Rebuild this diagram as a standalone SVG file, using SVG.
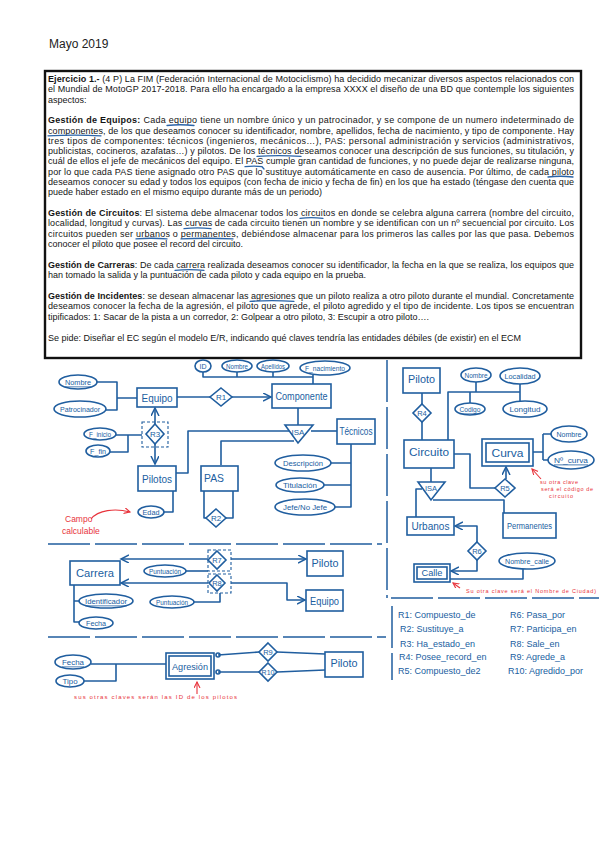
<svg xmlns="http://www.w3.org/2000/svg" width="599" height="848" viewBox="0 0 599 848">
<defs>
<marker id="arr" markerUnits="userSpaceOnUse" markerWidth="10" markerHeight="10" refX="8" refY="4" orient="auto">
<path d="M0,0 L8,4 L0,8" fill="none" stroke="#205e9f" stroke-width="1.5"/>
</marker>
<marker id="rarr" markerUnits="userSpaceOnUse" markerWidth="8" markerHeight="8" refX="6" refY="3" orient="auto">
<path d="M0,0 L6,3 L0,6" fill="none" stroke="#e8343c" stroke-width="1.1"/>
</marker>
</defs>
<style>
.doc{font-family:"Liberation Sans",Arial,sans-serif;font-size:9px;fill:#151515}
.bd{font-weight:bold}
.hl{fill:none;stroke:#2a64a8;stroke-width:1.3;stroke-linecap:round}
.s{fill:none;stroke:#205e9f;stroke-width:1.6;stroke-linejoin:round}
.box{fill:#fff;stroke:#205e9f;stroke-width:1.6}
.t{font-family:"Liberation Sans Narrow","Liberation Sans",sans-serif;fill:#205e9f;text-anchor:middle;dominant-baseline:central}
.dash{fill:none;stroke:#205e9f;stroke-width:1.1;stroke-dasharray:3 2}
.sep{fill:none;stroke:#205e9f;stroke-width:1.5;stroke-dasharray:42 5}
.red{font-family:"Liberation Sans Narrow","Liberation Sans",sans-serif;fill:#e8343c}
.rs{fill:none;stroke:#e8343c;stroke-width:1.1}
.lg{font-family:"Liberation Sans Narrow","Liberation Sans",sans-serif;fill:#205e9f;font-size:9px}
</style>
<rect width="599" height="848" fill="#fff"/>
<text x="49" y="48" font-family="'Liberation Sans',Arial,sans-serif" font-size="12" fill="#222">Mayo 2019</text>

<g id="enunciado">
<rect x="45" y="71" width="536" height="287" fill="#fff" stroke="#111" stroke-width="2.4"/>
<g class="doc">
<text x="48" y="82" textLength="526" lengthAdjust="spacing"><tspan class="bd">Ejercicio 1.-</tspan> (4 P)  La FIM (Federación Internacional de Motociclismo) ha decidido mecanizar diversos aspectos relacionados con</text>
<text x="48" y="92.3" textLength="526" lengthAdjust="spacing">el Mundial de MotoGP 2017-2018. Para ello ha encargado a la empresa XXXX el diseño de una BD que contemple los siguientes</text>
<text x="48" y="102.6">aspectos:</text>
<text x="48" y="123.2" textLength="526" lengthAdjust="spacing"><tspan class="bd">Gestión de Equipos:</tspan> Cada equipo tiene un nombre único y un patrocinador, y se compone de un numero indeterminado de</text>
<text x="48" y="133.5" textLength="526" lengthAdjust="spacing">componentes, de los que deseamos conocer su identificador, nombre, apellidos, fecha de nacimiento, y tipo de componente. Hay</text>
<text x="48" y="143.8" textLength="526" lengthAdjust="spacing">tres tipos de componentes: técnicos (ingenieros, mecánicos…), PAS: personal administración y servicios (administrativos,</text>
<text x="48" y="154.1" textLength="526" lengthAdjust="spacing">publicistas, cocineros, azafatas…) y pilotos. De los técnicos deseamos conocer una descripción de sus funciones, su titulación, y</text>
<text x="48" y="164.4" textLength="526" lengthAdjust="spacing">cuál de ellos el jefe de mecánicos del equipo. El PAS cumple gran cantidad de funciones, y no puede dejar de realizarse ninguna,</text>
<text x="48" y="174.7" textLength="526" lengthAdjust="spacing">por lo que cada PAS tiene asignado otro PAS que lo sustituye automáticamente en caso de ausencia. Por último, de cada piloto</text>
<text x="48" y="185" textLength="526" lengthAdjust="spacing">deseamos conocer su edad y todos los equipos (con fecha de inicio y fecha de fin) en los que ha estado (téngase den cuenta que</text>
<text x="48" y="195.3" textLength="274" lengthAdjust="spacing">puede haber estado en el mismo equipo durante más de un periodo)</text>
<text x="48" y="216" textLength="526" lengthAdjust="spacing"><tspan class="bd">Gestión de Circuitos</tspan>: El sistema debe almacenar todos los circuitos en donde se celebra alguna carrera (nombre del circuito,</text>
<text x="48" y="226.3" textLength="526" lengthAdjust="spacing">localidad, longitud y curvas). Las curvas de cada circuito tienen un nombre y se identifican con un nº secuencial por circuito. Los</text>
<text x="48" y="236.6" textLength="526" lengthAdjust="spacing">circuitos pueden ser urbanos o permanentes, debiéndose almacenar para los primeros las calles por las que pasa. Debemos</text>
<text x="48" y="246.9" textLength="195" lengthAdjust="spacing">conocer el piloto que posee el record del circuito.</text>
<text x="48" y="268" textLength="526" lengthAdjust="spacing"><tspan class="bd">Gestión de Carreras</tspan>: De cada carrera realizada deseamos conocer su identificador, la fecha en la que se realiza, los equipos que</text>
<text x="48" y="278.3" textLength="318" lengthAdjust="spacing">han tomado la salida y la puntuación de cada piloto y cada equipo en la prueba.</text>
<text x="48" y="299" textLength="526" lengthAdjust="spacing"><tspan class="bd">Gestión de Incidentes</tspan>: se desean almacenar las agresiones que un piloto realiza a otro piloto durante el mundial. Concretamente</text>
<text x="48" y="309.3" textLength="526" lengthAdjust="spacing">deseamos conocer la fecha de la agresión, el piloto que agrede, el piloto agredido y el tipo de incidente. Los tipos se encuentran</text>
<text x="48" y="319.6" textLength="381" lengthAdjust="spacing">tipificados: 1: Sacar de la pista a un corredor, 2: Golpear a otro piloto, 3: Escupir a otro piloto….</text>
<text x="48" y="340.5" textLength="473" lengthAdjust="spacing">Se pide: Diseñar el EC según el modelo E/R, indicando qué claves tendría las entidades débiles (de existir) en el ECM</text>
</g>
<g id="subrayados">
<path class="hl" d="M167 125.5 Q180 124 194 125.5"/>
<path class="hl" d="M48 135.8 Q75 134.5 101 135.8"/>
<path class="hl" d="M257 156.4 Q279 155 301 156.4"/>
<path class="hl" d="M245 166.7 Q254 165.5 262 166.7 L264 169"/>
<path class="hl" d="M548 177 Q560 175.5 573 177"/>
<path class="hl" d="M300 218.3 Q311 217 323 218.3"/>
<path class="hl" d="M184 228.6 Q197 227.3 211 228.6"/>
<path class="hl" d="M136 238.9 Q151 237.6 167 238.9"/>
<path class="hl" d="M181 238.9 Q207 237.6 233 238.9"/>
<path class="hl" d="M175 270.3 Q189 269 204 270.3"/>
<path class="hl" d="M250 301.3 Q272 300 294 301.3"/>
</g>
</g>

<g id="separadores">
<path class="sep" d="M387 360 V598"/>
<path class="sep" d="M392 606 V680"/>
<path class="sep" d="M48 544 H382"/>
<path class="sep" d="M48 637 H386"/>
<path class="sep" d="M391 598 H599"/>
</g>

<g id="connectors">
<path class="s" d="M203 372 V377 H313 M237 372 V377 M273 372 V377 M313 375 V384"/>
<path class="s" d="M97 382 H117 V410 H106 M117 398 H137"/>
<path class="s" d="M177 397 H210"/>
<path class="s" d="M232 397 H271" marker-end="url(#arr)"/>
<path class="s" d="M298 408 V425"/>
<path class="s" d="M311 431 H337"/>
<path class="s" d="M289 431 H188 V473 H175"/>
<path class="s" d="M294 441 H221 V465"/>
<path class="s" d="M204 490 V518 H206 M233 490 V518 H226"/>
<path class="s" d="M155 424 V408" marker-end="url(#arr)"/>
<path class="s" d="M155 444 V464" marker-end="url(#arr)"/>
<path class="s" d="M116 435 H142 M128 435 V452 H110"/>
<path class="s" d="M164 512 H173 V490"/>
<path class="s" d="M351 444 V507 H335 M331 463 H351 M324 485 H351"/>
<path class="s" d="M208 559 H121" marker-end="url(#arr)"/>
<path class="s" d="M231 559 H306" marker-end="url(#arr)"/>
<path class="s" d="M186 571 H208"/>
<path class="s" d="M208 583 H121" marker-end="url(#arr)"/>
<path class="s" d="M231 583 H287 V600 H305" marker-end="url(#arr)"/>
<path class="s" d="M194 602 H220 V593"/>
<path class="s" d="M74 585 V622 H79 M74 601 H79"/>
<path class="s" d="M91 664 H166 M116 664 V681 H84"/>
<path class="s" d="M218 655 L259 652 M277 652 L325 654"/>
<path class="s" d="M218 672 L259 672 M277 672 L325 670"/>
<circle class="s" cx="218" cy="655" r="2"/>
<circle class="s" cx="218" cy="672" r="2"/>
<path class="s" d="M422 393 V404 M422 422 V440"/>
<path class="s" d="M448 440 V392 H520 M476 382 V392 M520 384 V401 M470 392 V403"/>
<path class="s" d="M532 452 H543 M543 434 V460 M543 434 H551 M543 460 H548"/>
<path class="s" d="M454 454 H470 V488 H495"/>
<path class="s" d="M506 479 V467" marker-end="url(#arr)"/>
<path class="s" d="M431 468 V482"/>
<path class="s" d="M422 489 H416 V517"/>
<path class="s" d="M433 500 H504 V513"/>
<path class="s" d="M477 542 V526 H455" marker-end="url(#arr)"/>
<path class="s" d="M477 560 V571 H451" marker-end="url(#arr)"/>
<path class="s" d="M523 569 V579 H450"/>
</g>

<g id="equipo"><rect class="box" x="137" y="388" width="40" height="19"/><text class="t" x="157" y="397.5" font-size="10.5" textLength="31" lengthAdjust="spacingAndGlyphs">Equipo</text></g>
<g id="equipo-nombre"><ellipse class="box" cx="78" cy="382" rx="19" ry="7"/><text class="t" x="78" y="382" font-size="7.5" text-decoration="underline" textLength="26" lengthAdjust="spacingAndGlyphs">Nombre</text></g>
<g id="equipo-patrocinador"><ellipse class="box" cx="80" cy="409" rx="26" ry="8"/><text class="t" x="80" y="409" font-size="7.5" textLength="40" lengthAdjust="spacingAndGlyphs">Patrocinador</text></g>
<g id="r1"><polygon class="box" points="221,388 232,397 221,406 210,397"/><text class="t" x="221" y="397" font-size="8">R1</text></g>
<g id="componente"><rect class="box" x="272" y="384" width="59" height="24"/><text class="t" x="301.5" y="396" font-size="10.5" textLength="52" lengthAdjust="spacingAndGlyphs">Componente</text></g>
<g id="comp-id"><ellipse class="box" cx="203" cy="366" rx="8" ry="6"/><text class="t" x="203" y="366" font-size="7">ID</text></g>
<g id="comp-nombre"><ellipse class="box" cx="237" cy="366" rx="15" ry="6"/><text class="t" x="237" y="366" font-size="6.5" textLength="22" lengthAdjust="spacingAndGlyphs">Nombre</text></g>
<g id="comp-apellidos"><ellipse class="box" cx="273" cy="366" rx="16" ry="6"/><text class="t" x="273" y="366" font-size="6.5" textLength="24" lengthAdjust="spacingAndGlyphs">Apellidos</text></g>
<g id="comp-fnac"><ellipse class="box" cx="325" cy="368" rx="25" ry="7"/><text class="t" x="325" y="368" font-size="7" textLength="40" lengthAdjust="spacingAndGlyphs">F_nacimiento</text></g>
<g id="isa1"><polygon class="box" points="285,425 313,425 298,443"/><text class="t" x="298" y="432" font-size="8">ISA</text></g>
<g id="tecnicos"><rect class="box" x="337" y="419" width="38" height="25"/><text class="t" x="356" y="431.5" font-size="10" textLength="33" lengthAdjust="spacingAndGlyphs">Técnicos</text></g>
<g id="pas"><rect class="box" x="201" y="466" width="37" height="25"/><text class="t" x="214" y="478" font-size="11" textLength="20" lengthAdjust="spacingAndGlyphs">PAS</text></g>
<g id="r2"><polygon class="box" points="216,509 226,518 216,527 206,518"/><text class="t" x="216" y="518" font-size="8">R2</text></g>
<g id="pilotos"><rect class="box" x="138" y="466" width="38" height="25"/><text class="t" x="157" y="478.5" font-size="10.5" textLength="30" lengthAdjust="spacingAndGlyphs">Pilotos</text></g>
<g id="r3"><rect class="dash" x="142" y="422" width="26" height="25"/><polygon class="box" points="155,424 164,434 155,444 146,434"/><text class="t" x="155" y="434" font-size="8">R3</text></g>
<g id="finicio"><ellipse class="box" cx="100" cy="434" rx="16" ry="6"/><text class="t" x="100" y="434" font-size="6.5" textLength="22" lengthAdjust="spacingAndGlyphs">F_inicio</text></g>
<g id="ffin"><ellipse class="box" cx="98" cy="451" rx="12" ry="6"/><text class="t" x="98" y="451" font-size="7" textLength="16" lengthAdjust="spacingAndGlyphs">F_fin</text></g>
<g id="edad"><ellipse class="box" cx="151" cy="512" rx="13" ry="6"/><text class="t" x="151" y="512" font-size="7.5" textLength="17" lengthAdjust="spacingAndGlyphs">Edad</text></g>
<g id="descripcion"><ellipse class="box" cx="303" cy="463" rx="28" ry="8"/><text class="t" x="303" y="463" font-size="7.5" textLength="40" lengthAdjust="spacingAndGlyphs">Descripción</text></g>
<g id="titulacion"><ellipse class="box" cx="300" cy="485" rx="24" ry="7"/><text class="t" x="300" y="485" font-size="7.5" textLength="34" lengthAdjust="spacingAndGlyphs">Titulación</text></g>
<g id="jefe"><ellipse class="box" cx="305" cy="507" rx="30" ry="8"/><text class="t" x="305" y="507" font-size="7.5" textLength="44" lengthAdjust="spacingAndGlyphs">Jefe/No Jefe</text></g>
<g id="nota-calculable">
<text class="red" x="65" y="522" font-size="8.5">Campo</text>
<text class="red" x="62" y="534" font-size="8.5">calculable</text>
<path class="rs" d="M91 519 C98 510 115 508 130 512" marker-end="url(#rarr)"/>
</g>

<g id="carrera"><rect class="box" x="70" y="561" width="50" height="24"/><text class="t" x="95" y="573" font-size="10.5" textLength="38" lengthAdjust="spacingAndGlyphs">Carrera</text></g>
<g id="r7"><rect class="dash" x="208" y="550" width="23" height="21"/><polygon class="box" points="217,551 226,560 217,569 208,560"/><text class="t" x="217" y="560" font-size="7.5">R7</text></g>
<g id="piloto-r7"><rect class="box" x="307" y="551" width="36" height="25"/><text class="t" x="325" y="563" font-size="10.5" textLength="27" lengthAdjust="spacingAndGlyphs">Piloto</text></g>
<g id="puntuacion1"><ellipse class="box" cx="165" cy="571" rx="21" ry="6"/><text class="t" x="165" y="571" font-size="7" textLength="32" lengthAdjust="spacingAndGlyphs">Puntuación</text></g>
<g id="r8"><rect class="dash" x="208" y="574" width="23" height="19"/><polygon class="box" points="217,575 225,583 217,591 209,583"/><text class="t" x="217" y="583" font-size="7.5">R8</text></g>
<g id="equipo-r8"><rect class="box" x="306" y="590" width="37" height="21"/><text class="t" x="324.5" y="600.5" font-size="10.5" textLength="29" lengthAdjust="spacingAndGlyphs">Equipo</text></g>
<g id="puntuacion2"><ellipse class="box" cx="172" cy="602" rx="22" ry="6"/><text class="t" x="172" y="602" font-size="7" textLength="32" lengthAdjust="spacingAndGlyphs">Puntuación</text></g>
<g id="identificador"><ellipse class="box" cx="106" cy="601" rx="27" ry="7"/><text class="t" x="106" y="601" font-size="7.5" textLength="42" lengthAdjust="spacingAndGlyphs" text-decoration="underline">Identificador</text></g>
<g id="carrera-fecha"><ellipse class="box" cx="96" cy="623" rx="17" ry="6"/><text class="t" x="96" y="623" font-size="7.5" textLength="20" lengthAdjust="spacingAndGlyphs">Fecha</text></g>

<g id="agr-fecha"><ellipse class="box" cx="73" cy="662" rx="18" ry="7"/><text class="t" x="73" y="662" font-size="7.5" text-decoration="underline" textLength="22" lengthAdjust="spacingAndGlyphs">Fecha</text></g>
<g id="agr-tipo"><ellipse class="box" cx="70" cy="681" rx="14" ry="6"/><text class="t" x="70" y="681" font-size="7.5" textLength="15" lengthAdjust="spacingAndGlyphs">Tipo</text></g>
<g id="agresion"><rect class="box" x="166" y="653" width="48" height="26"/><rect class="box" x="169" y="656" width="42" height="20"/><text class="t" x="190" y="666" font-size="9.5" textLength="36" lengthAdjust="spacingAndGlyphs">Agresión</text></g>
<g id="r9"><polygon class="box" points="268,643 277,652 268,661 259,652"/><text class="t" x="268" y="652" font-size="7.5">R9</text></g>
<g id="r10"><polygon class="box" points="268,663 277,672 268,681 259,672"/><text class="t" x="268" y="672" font-size="7">R10</text></g>
<g id="piloto-agr"><rect class="box" x="325" y="652" width="38" height="25"/><text class="t" x="344" y="663" font-size="10.5" textLength="27" lengthAdjust="spacingAndGlyphs">Piloto</text></g>
<g id="nota-agresion">
<path class="rs" d="M197 694 V682" marker-end="url(#rarr)"/>
<text class="red" x="74" y="699" font-size="6" textLength="163" lengthAdjust="spacing">sus otras claves serán las ID de los pilotos</text>
</g>

<g id="piloto-r4"><rect class="box" x="403" y="368" width="37" height="25"/><text class="t" x="421.5" y="379" font-size="10.5" textLength="27" lengthAdjust="spacingAndGlyphs">Piloto</text></g>
<g id="r4"><polygon class="box" points="422,404 431,413 422,422 413,413"/><text class="t" x="422" y="413" font-size="7.5">R4</text></g>
<g id="circuito"><rect class="box" x="404" y="440" width="50" height="28"/><text class="t" x="429" y="452" font-size="11" textLength="40" lengthAdjust="spacingAndGlyphs">Circuito</text></g>
<g id="circ-nombre"><ellipse class="box" cx="476" cy="375" rx="15" ry="7"/><text class="t" x="476" y="375" font-size="7" textLength="23" lengthAdjust="spacingAndGlyphs">Nombre</text></g>
<g id="circ-localidad"><ellipse class="box" cx="520" cy="376" rx="20" ry="8"/><text class="t" x="520" y="376" font-size="7.5" textLength="31" lengthAdjust="spacingAndGlyphs">Localidad</text></g>
<g id="circ-codigo"><ellipse class="box" cx="470" cy="409" rx="15" ry="6"/><text class="t" x="470" y="409" font-size="7.5" text-decoration="underline" textLength="21" lengthAdjust="spacingAndGlyphs">Codigo</text></g>
<g id="circ-longitud"><ellipse class="box" cx="525" cy="409" rx="22" ry="8"/><text class="t" x="525" y="409" font-size="8" textLength="31" lengthAdjust="spacingAndGlyphs">Longitud</text></g>
<g id="curva"><rect class="box" x="482" y="439" width="51" height="27"/><rect class="box" x="486" y="443" width="43" height="19"/><text class="t" x="507.5" y="452.5" font-size="10.5" textLength="32" lengthAdjust="spacingAndGlyphs">Curva</text></g>
<g id="curva-nombre"><ellipse class="box" cx="569" cy="434" rx="18" ry="8"/><text class="t" x="569" y="434" font-size="7.5" textLength="25" lengthAdjust="spacingAndGlyphs">Nombre</text></g>
<g id="curva-num"><ellipse class="box" cx="571" cy="460" rx="23" ry="9"/><text class="t" x="571" y="460" font-size="8" text-decoration="underline" textLength="34" lengthAdjust="spacingAndGlyphs">Nº_curva</text></g>
<g id="r5"><polygon class="box" points="505,479 515,488 505,497 495,488"/><text class="t" x="505" y="488" font-size="7.5">R5</text></g>
<g id="nota-curva">
<path class="rs" d="M541 479 L532 469" marker-end="url(#rarr)"/>
<text class="red" x="540" y="484" font-size="5.5" textLength="38" lengthAdjust="spacing">su otra clave</text>
<text class="red" x="541" y="491" font-size="5.5" textLength="52" lengthAdjust="spacing">será el código de</text>
<text class="red" x="549" y="498" font-size="5.5" textLength="24" lengthAdjust="spacing">circuito</text>
</g>
<g id="isa2"><polygon class="box" points="418,482 445,482 431,500"/><text class="t" x="431" y="488.5" font-size="7.5">ISA</text></g>
<g id="urbanos"><rect class="box" x="407" y="517" width="47" height="18"/><text class="t" x="430.5" y="526" font-size="10" textLength="38" lengthAdjust="spacingAndGlyphs">Urbanos</text></g>
<g id="permanentes"><rect class="box" x="503" y="513" width="53" height="25"/><text class="t" x="529.5" y="525.5" font-size="8.5" textLength="45" lengthAdjust="spacingAndGlyphs">Permanentes</text></g>
<g id="r6"><polygon class="box" points="477,542 486,551 477,560 468,551"/><text class="t" x="477" y="551" font-size="7.5">R6</text></g>
<g id="calle"><rect class="box" x="414" y="564" width="36" height="18"/><rect class="box" x="417" y="567" width="30" height="12"/><text class="t" x="432" y="573" font-size="9" textLength="21" lengthAdjust="spacingAndGlyphs">Calle</text></g>
<g id="nombre-calle"><ellipse class="box" cx="527" cy="561" rx="28" ry="8"/><text class="t" x="527" y="561" font-size="8" textLength="44" lengthAdjust="spacingAndGlyphs">Nombre_calle</text></g>
<g id="nota-calle">
<path class="rs" d="M460 588 L453 583" marker-end="url(#rarr)"/>
<text class="red" x="466" y="593" font-size="5.5" textLength="130" lengthAdjust="spacing">Su otra clave será el Nombre de Ciudad)</text>
</g>

<g id="leyenda" class="lg">
<text x="398" y="618">R1: Compuesto_de</text>
<text x="400" y="632">R2:  Sustituye_a</text>
<text x="400" y="647">R3: Ha_estado_en</text>
<text x="399" y="660">R4: Posee_record_en</text>
<text x="398" y="674">R5: Compuesto_de2</text>
<text x="510" y="618">R6: Pasa_por</text>
<text x="510" y="632">R7: Participa_en</text>
<text x="510" y="647">R8: Sale_en</text>
<text x="510" y="660">R9: Agrede_a</text>
<text x="508" y="674">R10: Agredido_por</text>
</g>
</svg>
